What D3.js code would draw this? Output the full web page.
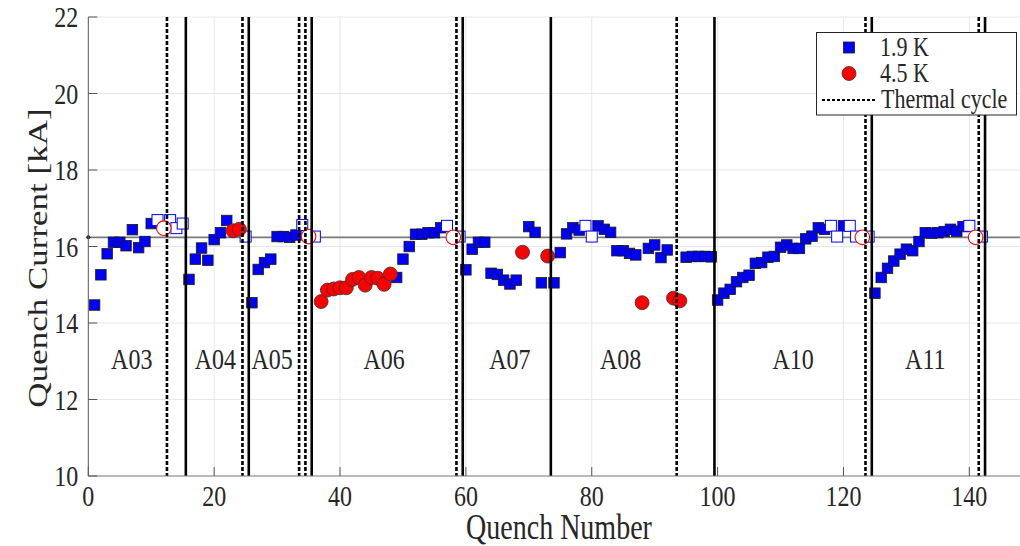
<!DOCTYPE html>
<html><head><meta charset="utf-8">
<script src="https://cdn.jsdelivr.net/npm/d3@7"></script>
<style>body{margin:0;background:#fff}svg{display:block}</style>
</head><body>
<svg id="c" width="1020" height="546"></svg>
<script>
// 1.9 K quenches (filled blue squares)
const q19N = [1,2,3,4,5,6,7,8,9,10,16,17,18,19,20,21,22,26,27,28,29,30,31,32,33,49,50,51,52,53,54,55,56,60,61,62,63,64,65,66,67,68,70,71,72,74,75,76,77,78,81,82,83,84,85,86,87,89,90,91,92,95,96,97,98,99,100,101,102,103,104,105,106,107,108,109,110,111,112,113,114,115,116,117,120,125,126,127,128,129,130,131,132,133,134,135,136,137,138,139];
const q19I = [14.47,15.26,15.81,16.11,16.11,16.02,16.44,15.97,16.13,16.6,15.14,15.67,15.96,15.64,16.18,16.36,16.68,14.53,15.40,15.58,15.67,16.26,16.26,16.24,16.30,15.19,15.67,16.0,16.32,16.32,16.36,16.36,16.49,15.39,15.93,16.11,16.11,15.30,15.27,15.12,15.02,15.12,16.52,16.37,15.05,15.05,15.84,16.33,16.49,16.43,16.54,16.45,16.37,15.89,15.89,15.82,15.78,15.95,16.04,15.71,15.91,15.72,15.74,15.74,15.74,15.73,14.60,14.78,14.88,15.08,15.19,15.25,15.56,15.58,15.72,15.74,15.98,16.04,15.95,15.95,16.20,16.27,16.49,16.45,16.54,14.78,15.19,15.43,15.62,15.80,15.93,15.89,16.13,16.36,16.35,16.36,16.39,16.45,16.40,16.52];
// 4.5 K quenches (filled red circles)
const q45N = [23,24,37,38,39,40,41,42,43,44,45,46,47,48,69,73,88,93,94];
const q45I = [16.41,16.45,14.56,14.86,14.89,14.92,14.92,15.14,15.19,14.99,15.19,15.17,15.01,15.28,15.85,15.75,14.53,14.65,14.58];
// ramps without quench (open markers)
const open19N = [11,13,14,15,25,34,36,57,59,79,80,118,119,121,122,124,140,142];
const open19I = [16.69,16.69,16.48,16.6,16.26,16.56,16.26,16.54,16.26,16.54,16.26,16.54,16.26,16.54,16.26,16.26,16.54,16.26];
const open45N = [12,35,58,123,141];
const open45I = [16.48,16.26,16.24,16.24,16.24];
// thermal cycles (dotted) and magnet boundaries (solid)
const thermalX = [12.5,24.5,33.5,34.5,58.5,93.5,123.5,141.5];
const magnetX = [15.5,25.5,35.5,59.5,73.5,99.5,124.5,142.5];
const magnetNames = ["A03","A04","A05","A06","A07","A08","A10","A11"];
const magnetLabelX = [6.9,20.2,29.2,47,67,84.6,112,133];
const nominal = 16.24;
const xTicks = [0,20,40,60,80,100,120,140];
const yTicks = [10,12,14,16,18,20,22];

const svg = d3.select("#c");
const L = 88.3, T = 17, B = 476;
const x = d3.scaleLinear().domain([0,150]).range([L, L+150*6.293]);
const y = d3.scaleLinear().domain([10,22]).range([B, T]);
const R = 1020;
const FONT = "'Liberation Serif','Times New Roman',serif";
const SY = 1.25;

function txt(px, py, s, size, anchor, rot) {
  svg.append("text")
    .attr("transform", `translate(${px},${py}) scale(1,${SY}) rotate(${rot||0})`)
    .attr("font-family", FONT).attr("font-size", size)
    .attr("text-anchor", anchor || "start").attr("fill", "#262626").text(s);
}

// grid
svg.append("g").selectAll("line").data(xTicks.filter(d=>d>0)).join("line")
  .attr("x1", d=>x(d)).attr("x2", d=>x(d)).attr("y1", T).attr("y2", B)
  .attr("stroke", "#e6e6e6").attr("stroke-width", 1);
svg.append("g").selectAll("line").data(yTicks.filter(d=>d>10)).join("line")
  .attr("x1", L).attr("x2", R).attr("y1", d=>y(d)).attr("y2", d=>y(d))
  .attr("stroke", "#e6e6e6").attr("stroke-width", 1);

// nominal line
svg.append("line").attr("x1", x(0)).attr("x2", R).attr("y1", y(nominal)).attr("y2", y(nominal))
  .attr("stroke", "#7a7a7a").attr("stroke-width", 1.7);
svg.append("circle").attr("cx", x(0)).attr("cy", y(nominal)).attr("r", 2).attr("fill", "#222");

// markers
const sq = 10.5;
svg.append("g").selectAll("rect").data(q19N.map((n,i)=>[n,q19I[i]])).join("rect")
  .attr("x", d=>x(d[0])-sq/2).attr("y", d=>y(d[1])-sq/2).attr("width", sq).attr("height", sq)
  .attr("fill", "#0000ff").attr("stroke", "#1a1a1a").attr("stroke-width", 0.8);
const osq = 11;
svg.append("g").selectAll("rect").data(open19N.map((n,i)=>[n,open19I[i]])).join("rect")
  .attr("x", d=>x(d[0])-osq/2).attr("y", d=>y(d[1])-osq/2).attr("width", osq).attr("height", osq)
  .attr("fill", "#fff").attr("stroke", "#0000ff").attr("stroke-width", 1);
svg.append("g").selectAll("circle").data(q45N.map((n,i)=>[n,q45I[i]])).join("circle")
  .attr("cx", d=>x(d[0])).attr("cy", d=>y(d[1])).attr("r", 7)
  .attr("fill", "#ff0000").attr("stroke", "#333").attr("stroke-width", 0.8);
svg.append("g").selectAll("circle").data(open45N.map((n,i)=>[n,open45I[i]])).join("circle")
  .attr("cx", d=>x(d[0])).attr("cy", d=>y(d[1])).attr("r", 7.3)
  .attr("fill", "#fff").attr("stroke", "#ff0000").attr("stroke-width", 1.1);

// vertical lines
svg.append("g").selectAll("line").data(thermalX).join("line")
  .attr("x1", d=>x(d)).attr("x2", d=>x(d)).attr("y1", T).attr("y2", B)
  .attr("stroke", "#000").attr("stroke-width", 2.6).attr("stroke-dasharray", "4,2");
svg.append("g").selectAll("line").data(magnetX).join("line")
  .attr("x1", d=>x(d)).attr("x2", d=>x(d)).attr("y1", T).attr("y2", B)
  .attr("stroke", "#000").attr("stroke-width", 2.6);

// axes
svg.append("line").attr("x1", L).attr("x2", L).attr("y1", T).attr("y2", B).attr("stroke", "#555").attr("stroke-width", 1);
svg.append("line").attr("x1", L).attr("x2", R).attr("y1", B).attr("y2", B).attr("stroke", "#777").attr("stroke-width", 1.2);
svg.append("g").selectAll("line").data(xTicks).join("line")
  .attr("x1", d=>x(d)).attr("x2", d=>x(d)).attr("y1", B).attr("y2", B-9).attr("stroke", "#555");
svg.append("g").selectAll("line").data(yTicks).join("line")
  .attr("x1", L).attr("x2", L+9).attr("y1", d=>y(d)).attr("y2", d=>y(d)).attr("stroke", "#555");

xTicks.forEach(t => txt(x(t), 506, String(t), 24, "middle"));
yTicks.forEach(t => txt(L-10, y(t)+8*SY, String(t), 24, "end"));
txt(559, 539, "Quench Number", 28, "middle");
txt(47, 258, "Quench Current [kA]", 28, "middle", -90);

magnetNames.forEach((m,i) => txt(x(magnetLabelX[i]), 369, m, 24, "middle"));

// legend
const lg = svg.append("g");
lg.append("rect").attr("x", 816.5).attr("y", 32.5).attr("width", 200).attr("height", 82.5)
  .attr("fill", "#fff").attr("stroke", "#262626").attr("stroke-width", 1);
lg.append("rect").attr("x", 849-5.5).attr("y", 47.5-5.5).attr("width", 11).attr("height", 11)
  .attr("fill", "#0000ff").attr("stroke", "#1a1a1a").attr("stroke-width", 0.8);
lg.append("circle").attr("cx", 849).attr("cy", 73.5).attr("r", 7)
  .attr("fill", "#ff0000").attr("stroke", "#333").attr("stroke-width", 0.8);
lg.append("line").attr("x1", 822).attr("x2", 875).attr("y1", 100).attr("y2", 100)
  .attr("stroke", "#000").attr("stroke-width", 2.2).attr("stroke-dasharray", "3,2");
txt(880, 55.5, "1.9 K", 22, "start");
txt(880, 82, "4.5 K", 22, "start");
txt(881, 107.5, "Thermal cycle", 22, "start");
</script>
</body></html>
